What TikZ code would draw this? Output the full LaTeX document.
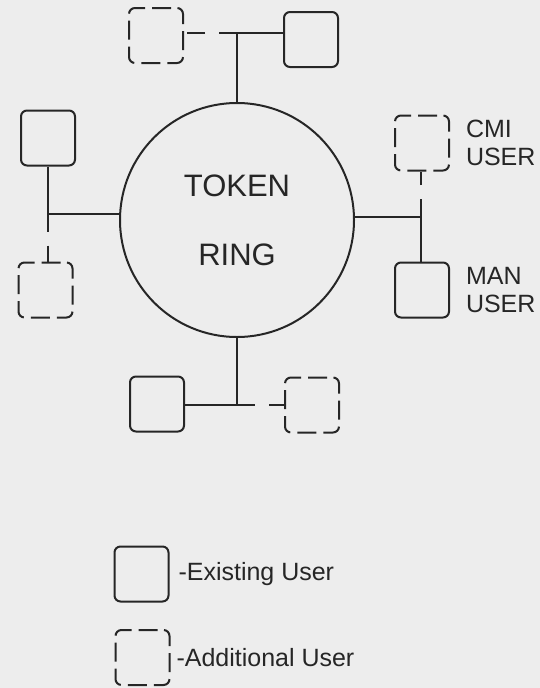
\documentclass[tikz,border=0pt]{standalone}
\usepackage{fontspec}
\setmainfont{Liberation Sans}
\usetikzlibrary{positioning}
\definecolor{ink}{gray}{0.15}
\definecolor{paper}{gray}{0.93}

\begin{document}
\begin{tikzpicture}[x=1pt, y=-1pt, line width=2pt,
    user/.style={draw=ink, rounded corners=6pt, minimum width=54pt, minimum height=55pt, inner sep=0pt},
    adduser/.style={user, dash pattern=on 19pt off 7pt, dash phase=-6pt},
    link/.style={draw=ink},
    addlink/.style={draw=ink, dash pattern=on 18pt off 14pt},
    lbl/.style={font=\fontsize{25}{28}\selectfont, text=ink, align=left, inner sep=0pt}]

    % 0. Khung hình và nền giấy
    \useasboundingbox (0,0) rectangle (540,688);
    \fill[paper] (0,0) rectangle (540,688);

    % 1. Vòng token ở giữa
    \node[draw=ink, circle, minimum size=234pt, inner sep=0pt, align=center,
          font=\fontsize{31}{69}\selectfont, text=ink] (ring) at (237,220) {TOKEN\\RING};

    % 2. Các trạm người dùng
    \node[adduser] (atop) at (156,35.5) {};
    \node[user] (utop) at (311,39.5) {};
    \node[user] (uleft) at (48,138) {};
    \node[adduser] (aleft) at (45.5,290) {};
    \node[adduser] (acmi) at (422,143) {};
    \node[user] (uman) at (422,290) {};
    \node[user] (ubot) at (157,404) {};
    \node[adduser] (abot) at (312,405) {};

    % 3. Điểm rẽ nhánh
    \path (ring.north) ++(0,-69) coordinate (jt);
    \path (ring.south) ++(0,67) coordinate (jb);
    \path (uleft.south) ++(0,47) coordinate (jl);
    \coordinate (jr) at (421,217);

    % 4. Đường nối
    \draw[link] (ring.north) -- (jt) -- (jt -| utop.west);
    \draw[addlink] (jt) -- (jt -| atop.east);
    \draw[link] (ring.south) -- (jb) -- (jb -| ubot.east);
    \draw[addlink] (jb) -- (jb -| abot.west);
    \draw[link] (uleft.south) -- (uleft.south |- jl) -- (ring.west |- jl);
    \draw[addlink] (uleft.south |- jl) -- (uleft.south |- aleft.north);
    \draw[link] (ring.east |- jr) -- (jr) -- (jr |- uman.north);
    \draw[addlink] (jr) -- (jr |- acmi.south);

    % 5. Nhãn bên phải
    \node[lbl, right=15pt of acmi] (lcmi) {CMI\\USER};
    \node[lbl, right=15pt of uman] (lman) {MAN\\USER};

    % 6. Chú thích
    \node[user] (lexist) at (141.5,574) {};
    \node[lbl, right=8pt of lexist] (texist) {-Existing User};
    \node[adduser] (ladd) at (142.5,657.5) {};
    \node[lbl, right=5pt of ladd] (tadd) {-Additional User};

\end{tikzpicture}
\end{document}
